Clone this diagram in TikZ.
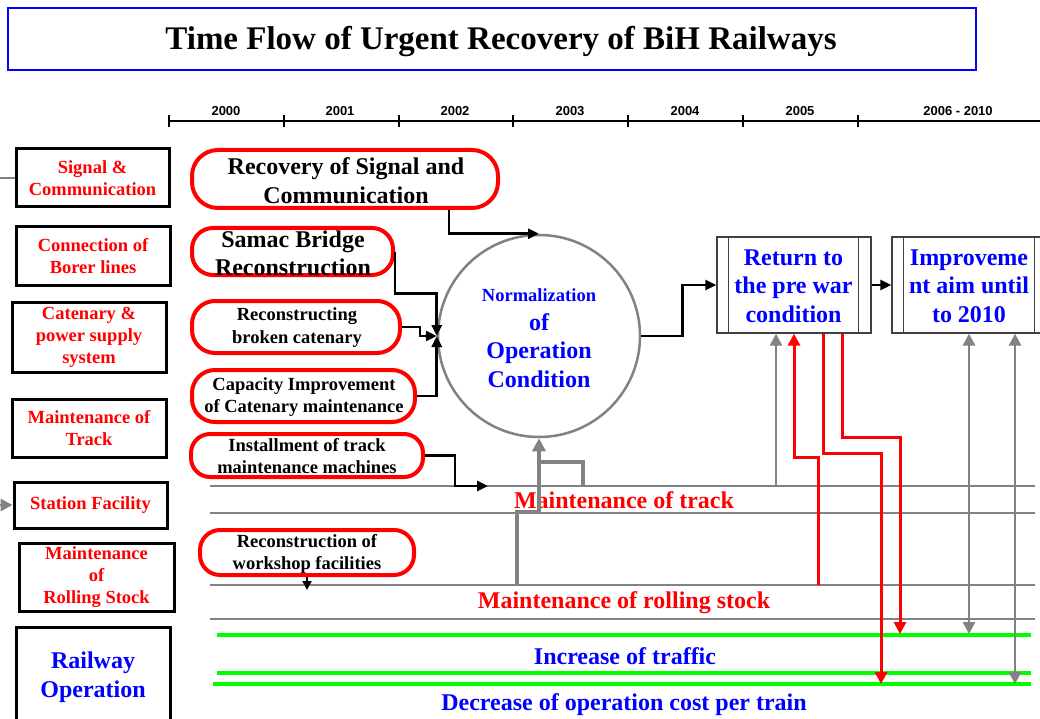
\documentclass[tikz,border=0pt]{standalone}
\usepackage{fontspec}
\setmainfont{Liberation Serif}
\newfontfamily\yearfont{Liberation Sans}
\usetikzlibrary{arrows.meta}

\definecolor{pRed}{RGB}{255,0,0}
\definecolor{pBlue}{RGB}{0,0,255}
\definecolor{pGray}{RGB}{130,130,130}
\definecolor{pGreen}{RGB}{0,255,0}

\begin{document}
\begin{tikzpicture}[x=1pt,y=-1pt,
  lbox/.style={draw=black, line width=3pt, fill=white, inner sep=0pt, align=center,
    text=pRed, font=\fontsize{18.5}{22}\selectfont\bfseries},
  rshape/.style={draw=pRed, line width=4pt, fill=white, inner sep=0pt},
  bigtxt/.style={align=center, inner sep=0pt, font=\fontsize{24}{28.5}\selectfont\bfseries},
  midtxt/.style={align=center, inner sep=0pt, font=\fontsize{18.5}{22}\selectfont\bfseries},
  year/.style={inner sep=0pt, font=\yearfont\fontsize{13}{15}\selectfont\bfseries},
  procbox/.style={draw=black!75, line width=1.3pt, fill=white, inner sep=0pt},
  blk/.style={draw=black, line width=2.8pt, -{Triangle[length=11pt,width=10pt]}},
  band/.style={draw=pGray, line width=2.6pt},
  greenline/.style={draw=pGreen, line width=4.5pt},
  garr/.style={draw=pGray, line width=2.8pt, -{Triangle[length=12pt,width=12pt]}},
  gboth/.style={draw=pGray, line width=2.8pt, {Triangle[length=12pt,width=12pt]}-{Triangle[length=12pt,width=12pt]}},
  gthick/.style={draw=pGray, line width=3.5pt},
  rarr/.style={draw=pRed, line width=3pt, -{Triangle[length=12pt,width=12pt]}},
]
\useasboundingbox (0,0) rectangle (1040,719);
\fill[white] (0,0) rectangle (1040,719);

% ---------- title ----------
\node[draw=pBlue, line width=2.5pt, minimum width=968pt, minimum height=62pt, inner sep=0pt] (title) at (492,39) {};
\node[inner sep=0pt, font=\fontsize{33}{38}\selectfont\bfseries] (titleTxt) at (501,42) {Time Flow of Urgent Recovery of BiH Railways};

% ---------- time axis ----------
\draw[line width=1.3pt] (169,121) -- (1040,121);
\foreach \x in {169,284,399,513,628,743,858}
  \draw[line width=1.3pt] (\x,115) -- (\x,127);
\node[year] (y2000) at (226,111) {2000};
\node[year] (y2001) at (340,111) {2001};
\node[year] (y2002) at (455,111) {2002};
\node[year] (y2003) at (570,111) {2003};
\node[year] (y2004) at (685,111) {2004};
\node[year] (y2005) at (800,111) {2005};
\node[year] (y2006) at (958,111) {2006 - 2010};

% ---------- sector boxes ----------
\node[lbox, minimum width=153pt, minimum height=58pt] (sig) at (92.5,178) {Signal \&\\Communication};
\node[lbox, minimum width=154pt, minimum height=58pt] (borer) at (93,256) {Connection of\\Borer lines};
\node[lbox, minimum width=154pt, minimum height=70pt] (caten) at (89,337) {Catenary \&\\power supply\\system};
\node[lbox, minimum width=154pt, minimum height=58pt] (mtrack) at (89,428) {Maintenance of\\Track};
\node[lbox, minimum width=153pt, minimum height=46pt] (station) at (90.5,505) {Station Facility};
\node[lbox, minimum width=155pt, minimum height=68pt] (rstock) at (96.5,577) {Maintenance\\of\\Rolling Stock};
\node[lbox, minimum width=154pt, minimum height=133pt] (rop) at (93,693.5) {};
\node[bigtxt, text=pBlue] (ropTxt) at (93,677) {Railway\\Operation};

\coordinate (sigFeed) at (0,178);
\coordinate (stationFeed) at (0,505);
\draw[pGray, line width=2.5pt] (sigFeed) -- (sig.west);
\draw[garr] (stationFeed) -- (station.west);

% ---------- project boxes ----------
\node[rshape, rounded corners=26pt, minimum width=306pt, minimum height=58pt] (recSig) at (345,179) {};
\node[rshape, rounded corners=21pt, minimum width=201pt, minimum height=47pt] (samac) at (292.5,251.5) {};
\node[rshape, rounded corners=23pt, minimum width=208pt, minimum height=52pt] (recCat) at (296,327) {};
\node[rshape, rounded corners=23pt, minimum width=223pt, minimum height=52pt] (capCat) at (303.5,396) {};
\node[rshape, rounded corners=19pt, minimum width=232pt, minimum height=43pt] (instMach) at (307,455.5) {};
\node[rshape, rounded corners=20pt, minimum width=214pt, minimum height=45pt] (workshop) at (307,552.5) {};

\node[bigtxt, font=\fontsize{24}{29}\selectfont\bfseries] (recSigTxt) at (346,181) {Recovery of Signal and\\Communication};
\node[bigtxt, font=\fontsize{24}{28}\selectfont\bfseries] (samacTxt) at (293,253) {Samac Bridge\\Reconstruction};
\node[midtxt, font=\fontsize{18.5}{23}\selectfont\bfseries] (recCatTxt) at (297,328) {Reconstructing\\broken catenary};
\node[midtxt] (capCatTxt) at (304,397) {Capacity Improvement\\of Catenary maintenance};
\node[midtxt] (instMachTxt) at (307,456.5) {Installment of track\\maintenance machines};
\node[midtxt] (workshopTxt) at (307,553.5) {Reconstruction of\\workshop facilities};

% ---------- central goal and targets ----------
\node[circle, draw=pGray, line width=2.5pt, minimum size=202pt, inner sep=0pt] (norm) at (539,336) {};
\node[bigtxt, text=pBlue] (normTxt) at (539,338) {{\fontsize{18.5}{22}\selectfont Normalization}\\of\\Operation\\Condition};

\node[procbox, minimum width=154pt, minimum height=96pt] (ret) at (794,285) {};
\draw[black!75, line width=1.3pt] ([xshift=12pt]ret.north west) -- ([xshift=12pt]ret.south west);
\draw[black!75, line width=1.3pt] ([xshift=-13pt]ret.north east) -- ([xshift=-13pt]ret.south east);
\node[bigtxt, text=pBlue] (retTxt) at (793.5,286) {Return to\\the pre war\\condition};

\node[procbox, minimum width=154pt, minimum height=96pt] (impr) at (969,285) {};
\draw[black!75, line width=1.3pt] ([xshift=12pt]impr.north west) -- ([xshift=12pt]impr.south west);
\draw[black!75, line width=1.3pt] ([xshift=-12pt]impr.north east) -- ([xshift=-12pt]impr.south east);
\node[bigtxt, text=pBlue] (imprTxt) at (969,286) {Improveme\\nt aim until\\to 2010};

% ---------- bands ----------
\coordinate (trackTopL) at (210,486);  \coordinate (trackTopR) at (1035,486);
\coordinate (trackBotL) at (210,513);  \coordinate (trackBotR) at (1035,513);
\coordinate (rsTopL) at (210,585);     \coordinate (rsTopR) at (1035,585);
\coordinate (rsBotL) at (210,619);     \coordinate (rsBotR) at (1035,619);
\coordinate (incL) at (217,635);       \coordinate (incR) at (1031,635);
\coordinate (decTopL) at (217,673);    \coordinate (decTopR) at (1031,673);
\coordinate (decBotL) at (213,684);    \coordinate (decBotR) at (1031,684);

\draw[band] (trackTopL) -- (trackTopR);
\draw[band] (trackBotL) -- (trackBotR);
\draw[band] (rsTopL) -- (rsTopR);
\draw[band] (rsBotL) -- (rsBotR);
\draw[greenline] (incL) -- (incR);
\draw[greenline] (decTopL) -- (decTopR);
\draw[greenline] (decBotL) -- (decBotR);

\node[bigtxt, text=pRed] (mtTxt) at (624,500) {Maintenance of track};
\node[bigtxt, text=pRed] (mrTxt) at (624,603) {Maintenance of rolling stock};
\node[bigtxt, text=pBlue] (incTxt) at (625,656) {Increase of traffic};
\node[bigtxt, text=pBlue] (decTxt) at (624,705) {Decrease of operation cost per train};

% ---------- project connectors ----------
\draw[blk] ([xshift=104pt]recSig.south) |- (norm.north);
\draw[blk] (samac.east) -- ++(0,42) -| (norm.west);
\draw[blk] (recCat.east) -- ++(18,0) |- (norm.west);
\draw[blk] (capCat.east) -| (norm.west);
\coordinate (instTip) at (488,486);
\draw[blk] (instMach.east) -- ++(30,0) |- (instTip);
\coordinate (wsTip) at (307,590);
\draw[draw=black, line width=1.8pt, -{Triangle[length=9pt,width=9pt]}] (workshop.south) -- (wsTip);

\draw[blk] (norm.east) -- ++(41,0) |- (ret.west);
\draw[blk] (ret.east) -- (impr.west);

% ---------- feedback into the circle ----------
\coordinate (g1) at (517,585);
\coordinate (g2) at (583,486);
\draw[gthick, -{Triangle[length=13pt,width=13pt]}] (g1) -- (517,512) -| (norm.south);
\draw[gthick] (g2) |- (norm.south |- 0,462);

% ---------- links to the targets ----------
\coordinate (tk776) at (776,486);
\draw[garr] (tk776) -- ([xshift=-18pt]ret.south);
\coordinate (rs818) at (818,585);
\draw[rarr] (rs818) -- (818,457) -| (ret.south);
\coordinate (decArr) at (881,684);
\draw[rarr] ([xshift=29pt]ret.south) -- ++(0,120) -| (decArr);
\coordinate (incArr) at (900,634);
\draw[rarr] ([xshift=48pt]ret.south) -- ++(0,104) -| (incArr);
\coordinate (inc969) at (969,634);
\draw[gboth] (impr.south) -- (inc969);
\coordinate (dec1015) at (1015,684);
\draw[gboth] ([xshift=46pt]impr.south) -- (dec1015);

\end{tikzpicture}
\end{document}
